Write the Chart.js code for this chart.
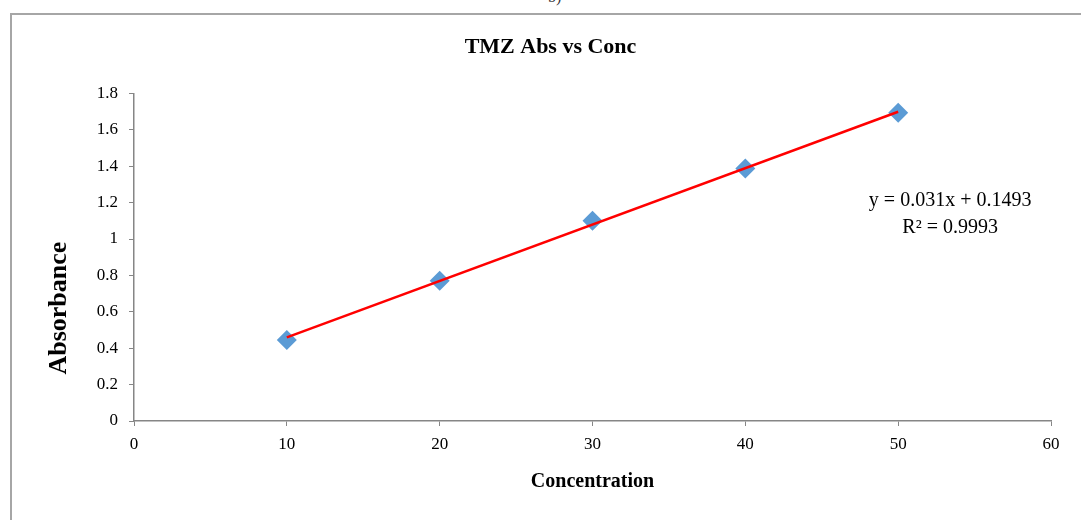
<!DOCTYPE html>
<html>
<head>
<meta charset="utf-8">
<script src="https://cdn.jsdelivr.net/npm/chart.js@4.4.1/dist/chart.umd.min.js"></script>
<style>
  html, body { margin: 0; padding: 0; background: #ffffff; }
  #wrap { position: relative; width: 1081px; height: 520px; overflow: hidden; background: #ffffff; }
  #frame { position: absolute; left: 10px; top: 13px; width: 1100px; height: 540px; border-left: 2px solid #a6a6a6; border-top: 2px solid #a6a6a6; }
  #frag { position: absolute; left: 548px; top: -12px; font: 16px "Liberation Serif", serif; color: #333; }
  #c { position: absolute; left: 0; top: 0; }
</style>
</head>
<body>
<div id="wrap">
  <div id="frame"></div>
  <div id="frag">b)</div>
  <canvas id="c" width="1081" height="520"></canvas>
</div>
<script>
// ---- data ----
const concentration = [10, 20, 30, 40, 50];
const absorbance = [0.445, 0.770, 1.100, 1.387, 1.694];
const trendX = [10, 50];
const trendY = [0.4593, 1.6993];
const xTicks = [0, 10, 20, 30, 40, 50, 60];
const yTicks = [0, 0.2, 0.4, 0.6, 0.8, 1, 1.2, 1.4, 1.6, 1.8];
const chartTitle = "TMZ Abs vs Conc";
const xTitle = "Concentration";
const yTitle = "Absorbance";
const eqLines = ["y = 0.031x + 0.1493", "R\u00B2 = 0.9993"];
const eqAnchor = [53.4, 1.21];
const yTitleAnchor = 0.62; // value along the y axis where the rotated title is centred

const pointData = concentration.map((x, i) => ({ x: x, y: absorbance[i] }));
const trendData = trendX.map((x, i) => ({ x: x, y: trendY[i] }));

const AXIS = '#868686';
const SERIF = '"Liberation Serif", "Times New Roman", serif';

const textPlugin = {
  id: 'extraText',
  afterDatasetsDraw(chart) {
    const ctx = chart.ctx;
    const xs = chart.scales.x, ys = chart.scales.y;
    ctx.save();
    ctx.fillStyle = '#000';
    // trendline equation
    const px = xs.getPixelForValue(eqAnchor[0]);
    const py = ys.getPixelForValue(eqAnchor[1]);
    ctx.font = '20px ' + SERIF;
    ctx.textAlign = 'center';
    ctx.textBaseline = 'middle';
    eqLines.forEach((t, i) => ctx.fillText(t, px, py + i * 27));
    // y axis title (rotated)
    const ty = ys.getPixelForValue(yTitleAnchor);
    ctx.translate(59, ty);
    ctx.rotate(-Math.PI / 2);
    ctx.font = 'bold 26px ' + SERIF;
    ctx.fillText(yTitle, 0, 0);
    ctx.restore();
  }
};

new Chart(document.getElementById('c'), {
  type: 'scatter',
  data: {
    datasets: [
      {
        label: 'Linear (Absorbance)',
        data: trendData,
        showLine: true,
        borderColor: '#ff0000',
        borderWidth: 2.5,
        pointRadius: 0,
        fill: false,
        order: 0
      },
      {
        label: 'Absorbance',
        data: pointData,
        pointStyle: 'rectRot',
        pointRadius: 10,
        pointHoverRadius: 10,
        backgroundColor: '#5b9bd5',
        borderColor: '#5b9bd5',
        borderWidth: 0,
        order: 1
      }
    ]
  },
  options: {
    responsive: false,
    animation: false,
    devicePixelRatio: 1,
    layout: { padding: { left: 30, right: 10, top: 0, bottom: 0 } },
    plugins: {
      legend: { display: false },
      tooltip: { enabled: false },
      title: {
        display: true,
        text: chartTitle,
        color: '#000',
        font: { family: SERIF, size: 22, weight: 'bold', lineHeight: 1.2 },
        padding: { top: 34, bottom: 33 }
      }
    },
    scales: {
      x: {
        type: 'linear',
        min: 0, max: 60,
        afterBuildTicks(s) { s.ticks = xTicks.map(v => ({ value: v })); },
        afterFit(s) { s.height = 99; },
        grid: { drawOnChartArea: false, drawTicks: true, tickLength: 5, color: AXIS, lineWidth: 1 },
        border: { color: AXIS, width: 1.5 },
        ticks: { color: '#000', font: { family: SERIF, size: 17 }, padding: 8, maxRotation: 0 },
        title: { display: true, text: xTitle, color: '#000', font: { family: SERIF, size: 20, weight: 'bold', lineHeight: 1.2 }, padding: { top: 0, bottom: 26 } }
      },
      y: {
        type: 'linear',
        min: 0, max: 1.8,
        afterBuildTicks(s) { s.ticks = yTicks.map(v => ({ value: v })); },
        afterFit(s) { s.width = 104; },
        grid: { drawOnChartArea: false, drawTicks: true, tickLength: 5, color: AXIS, lineWidth: 1 },
        border: { color: AXIS, width: 1.5 },
        ticks: {
          color: '#000', font: { family: SERIF, size: 17 }, padding: 11,
          callback: v => String(Number(v.toFixed(1)))
        },
        title: { display: false, text: yTitle }
      },
      yRight: {
        type: 'linear',
        position: 'right',
        min: 0, max: 1.8,
        afterFit(s) { s.width = 20; },
        grid: { display: false },
        border: { display: false },
        ticks: { display: false }
      }
    }
  },
  plugins: [textPlugin]
});
</script>
</body>
</html>
